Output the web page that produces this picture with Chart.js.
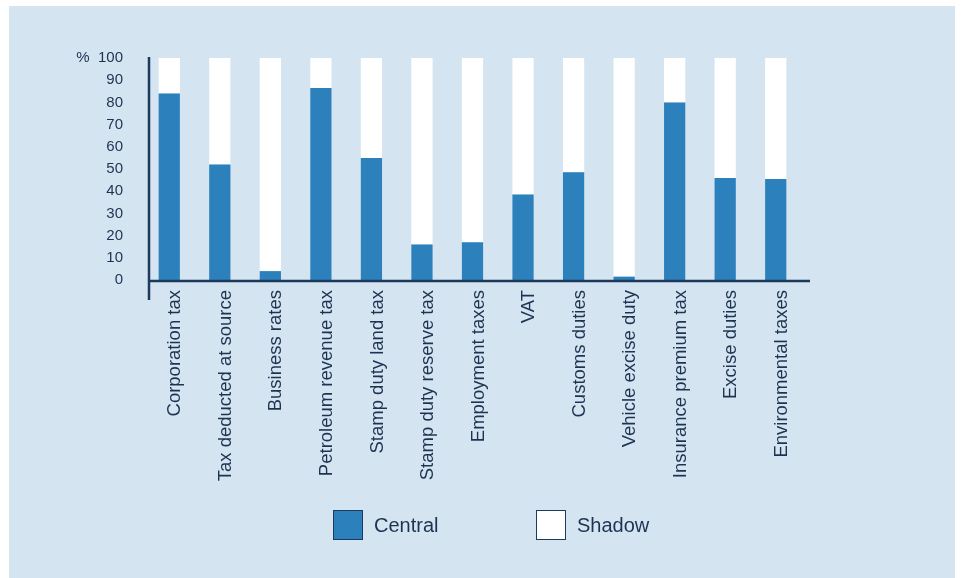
<!DOCTYPE html>
<html>
<head>
<meta charset="utf-8">
<script src="https://cdn.jsdelivr.net/npm/chart.js@4"></script>
<style>
  body { margin: 0; background: #ffffff; font-family: "Liberation Sans", Arial, sans-serif; }
  #panel { position: absolute; left: 9px; top: 6px; width: 946px; height: 572px; background: #d5e4f1; }
  #taxChart { position: absolute; left: 0; top: 0; }
  .legend-item { position: absolute; top: 504px; height: 30px; display: flex; align-items: center; color: #1d3352; font-size: 20px; }
  .legend-box { width: 28px; height: 28px; border: 1px solid #1b3a5c; margin-right: 11px; }
</style>
</head>
<body>
<div id="panel">
  <canvas id="taxChart" width="946" height="572"></canvas>
  <div class="legend-item" style="left:324px"><span class="legend-box" style="background:#2c81bd"></span>Central</div>
  <div class="legend-item" style="left:527px"><span class="legend-box" style="background:#ffffff"></span>Shadow</div>
</div>
<script>
// Categories along the x axis
const categories = [
    'Corporation tax', 'Tax deducted at source', 'Business rates', 'Petroleum revenue tax',
    'Stamp duty land tax', 'Stamp duty reserve tax', 'Employment taxes', 'VAT',
    'Customs duties', 'Vehicle excise duty', 'Insurance premium tax', 'Excise duties',
    'Environmental taxes'
];

// Share of each tax, in percent
const centralShare = [84, 52, 4, 86.5, 55, 16, 17, 38.5, 48.5, 1.5, 80, 46, 45.5];
const shadowShare = [16, 48, 96, 13.5, 45, 84, 83, 61.5, 51.5, 98.5, 20, 54, 54.5];

const yTicks = [0, 10, 20, 30, 40, 50, 60, 70, 80, 90, 100];

const textColor = '#1d3352';
const axisColor = '#1b3a5c';

// Draws the two axis lines, which run a little past the plot area
const axisLines = {
    id: 'axisLines',
    afterDatasetsDraw(chart) {
        const { ctx, chartArea, scales } = chart;
        const x0 = chartArea.left + 5;
        const y0 = scales.y.getPixelForValue(0) + 1;
        ctx.save();
        ctx.strokeStyle = axisColor;
        ctx.lineWidth = 2.5;
        ctx.beginPath();
        ctx.moveTo(x0, chartArea.top - 1);
        ctx.lineTo(x0, chartArea.bottom + 20);
        ctx.moveTo(x0, y0);
        ctx.lineTo(chartArea.right + 9, y0);
        ctx.stroke();
        ctx.restore();
    }
};

const ctx = document.getElementById('taxChart').getContext('2d');
new Chart(ctx, {
    type: 'bar',
    data: {
        labels: categories,
        datasets: [
            {
                label: 'Central',
                data: centralShare,
                backgroundColor: '#2c81bd',
                barPercentage: 0.42,
                categoryPercentage: 1
            },
            {
                label: 'Shadow',
                data: shadowShare,
                backgroundColor: '#ffffff',
                barPercentage: 0.42,
                categoryPercentage: 1
            }
        ]
    },
    options: {
        responsive: false,
        animation: false,
        layout: { padding: { left: 0, right: 154, top: 52, bottom: 0 } },
        plugins: {
            legend: { display: false },
            tooltip: { enabled: false }
        },
        scales: {
            x: {
                stacked: true,
                grid: { display: false, drawTicks: false },
                border: { display: false },
                ticks: {
                    autoSkip: false,
                    minRotation: 90,
                    maxRotation: 90,
                    padding: 10,
                    labelOffset: 6,
                    color: textColor,
                    font: { family: '"Liberation Sans", Arial, sans-serif', size: 18.5 }
                },
                afterFit(scale) { scale.height = 298; }
            },
            y: {
                stacked: true,
                min: 0,
                max: 100,
                grid: { display: false, drawTicks: false },
                border: { display: false },
                afterBuildTicks(scale) { scale.ticks = yTicks.map(v => ({ value: v })); },
                ticks: {
                    padding: 21,
                    color: textColor,
                    font: { family: '"Liberation Sans", Arial, sans-serif', size: 15 },
                    callback: v => v === 100 ? '%  100' : String(v)
                },
                afterFit(scale) { scale.width = 135; }
            }
        }
    },
    plugins: [axisLines]
});
</script>
</body>
</html>
